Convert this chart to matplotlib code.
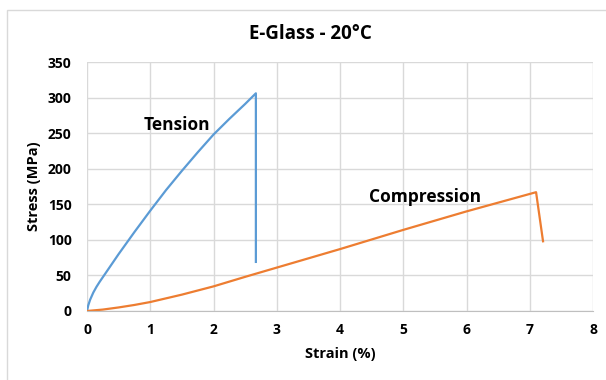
import matplotlib
matplotlib.use("Agg")
import matplotlib.pyplot as plt
from matplotlib.patches import Rectangle

plt.rcParams['font.family'] = ['Open Sans', 'DejaVu Sans']

# Tension curve (strain %, stress MPa)
tension_strain = [0, 0.02, 0.05, 0.1, 0.15, 0.2, 0.3, 0.4, 0.5, 0.75, 1.0, 1.25, 1.5,
                  1.75, 2.0, 2.25, 2.5, 2.67, 2.67]
tension_stress = [0, 8, 16, 26, 34, 41, 54, 67, 80, 111, 141, 170, 197,
                  223, 248, 270, 291, 306, 69]

# Compression curve
comp_strain = [0, 0.25, 0.5, 0.75, 1.0, 1.5, 2.0, 2.5, 3.0, 3.5, 4.0, 5.0, 6.0, 7.1, 7.21]
comp_stress = [0, 2, 5, 8.5, 12.6, 23, 34.6, 48, 61, 74, 87, 114, 140, 167, 98]

x_ticks = [0, 1, 2, 3, 4, 5, 6, 7, 8]
y_ticks = [0, 50, 100, 150, 200, 250, 300, 350]

fig = plt.figure(figsize=(6.06, 3.8), dpi=100)
ax = fig.add_axes([87/606, 1 - 311/380, (593 - 87)/606, (311 - 62)/380])

# chart border like Excel
fig.patches.append(Rectangle((7/606, -0.01), 1.0, 1 - 10/380 + 0.01,
                             transform=fig.transFigure, fill=False,
                             edgecolor='#d9d9d9', linewidth=1.0))

ax.plot(tension_strain, tension_stress, color='#5B9BD5', linewidth=1.6)
ax.plot(comp_strain, comp_stress, color='#ED7D31', linewidth=1.6)

ax.set_xlim(0, 8)
ax.set_ylim(0, 350)
ax.set_xticks(x_ticks)
ax.set_yticks(y_ticks)
ax.grid(True, color='#d9d9d9', linewidth=1.0)
ax.set_axisbelow(True)
for s in ['top', 'right', 'left']:
    ax.spines[s].set_visible(False)
ax.spines['bottom'].set_color('#bfbfbf')
ax.tick_params(length=0, labelsize=10, colors='#000000')
ax.tick_params(axis='y', pad=11)
ax.tick_params(axis='x', pad=9)
for lab in ax.get_xticklabels() + ax.get_yticklabels():
    lab.set_fontweight('bold')

ax.set_xlabel('Strain (%)', fontsize=10.5, fontweight='bold', labelpad=7)
ax.set_ylabel('Stress (MPa)', fontsize=10.5, fontweight='bold', labelpad=5)

ax.text(1.42, 262, 'Tension', fontsize=12.5, fontweight='bold', ha='center', va='center')
ax.text(5.35, 160, 'Compression', fontsize=12.5, fontweight='bold', ha='center', va='center')

fig.text(310/606, 1 - 34/380, 'E-Glass - 20°C', fontsize=13.5, fontweight='bold',
         ha='center', va='center')

fig.savefig('out.png', dpi=100)
